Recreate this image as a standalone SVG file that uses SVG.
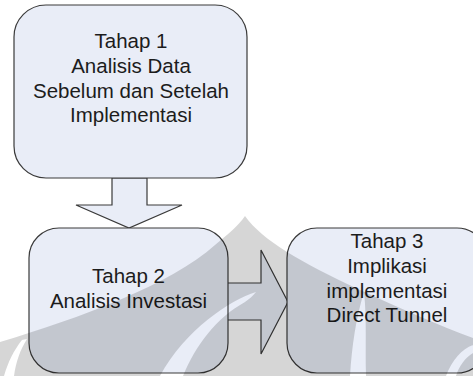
<svg xmlns="http://www.w3.org/2000/svg" width="473" height="376" viewBox="0 0 473 376">
  <style>
    .box { fill: #E9EDF7; stroke: #3a3a3a; stroke-width: 1.2; }
    .arrow { fill: #E9EDF7; stroke: #3a3a3a; stroke-width: 1.2; stroke-linejoin: miter; }
    .label { font-family: "Liberation Sans", Arial, sans-serif; font-size: 20.5px; fill: #1c1c1c; text-anchor: middle; }
    .mark { fill: #000; opacity: 0.16; }
  </style>
  <rect width="473" height="376" fill="#ffffff"/>

  <!-- block arrows between stages -->
  <g id="connectors">
    <polygon class="arrow" points="112,178 147,178 147,205 182,205 129,228 76,205 112,205"/>
    <polygon class="arrow" points="220,283 261,283 261,250 288,302 261,354 261,320 220,320"/>
  </g>

  <g id="stage1">
    <rect class="box" x="14" y="5" width="233" height="173" rx="32" ry="32"/>
    <text class="label" x="131" y="47.5">Tahap 1</text>
    <text class="label" x="131" y="72.5">Analisis Data</text>
    <text class="label" x="131" y="97.5">Sebelum dan Setelah</text>
    <text class="label" x="131" y="122">Implementasi</text>
  </g>

  <g id="stage2">
    <rect class="box" x="29" y="228" width="199" height="145" rx="30" ry="30"/>
    <text class="label" x="128.5" y="283">Tahap 2</text>
    <text class="label" x="128.5" y="308">Analisis Investasi</text>
  </g>

  <g id="stage3">
    <rect class="box" x="287" y="228" width="200" height="145" rx="30" ry="30"/>
    <text class="label" x="387" y="248">Tahap 3</text>
    <text class="label" x="387" y="272.5">Implikasi</text>
    <text class="label" x="387" y="297.5">implementasi</text>
    <text class="label" x="387" y="322">Direct Tunnel</text>
  </g>

  <!-- faint emblem along the lower edge -->
  <g id="emblem">
    <path class="mark" fill-rule="evenodd" d="M245,216 C262,240 300,262 360,290 C400,308 440,326 473,338 L473,376 L0,376 L0,342 C80,318 170,285 215,245 C228,234 238,226 245,216 Z
      M256,292 C230,300 185,330 160,376 L183,376 C196,345 216,318 245,302 C249,299 253,296 256,292 Z
      M350,376 C352,345 356,318 364,292 C367,320 365,350 366,376 Z
      M446,376 C452,360 462,349 473,345 L473,353 C465,358 459,366 456,376 Z
      M4,376 C8,362 14,350 22,340 L27,339 C20,350 16,362 14,376 Z"/>
  </g>
</svg>
